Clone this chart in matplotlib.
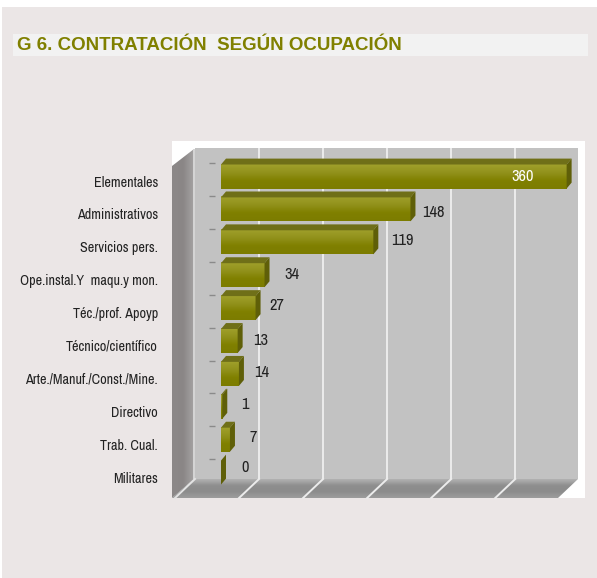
import matplotlib
matplotlib.use('Agg')
import matplotlib.pyplot as plt
import numpy as np
from matplotlib.colors import LinearSegmentedColormap
from matplotlib.patches import Polygon, Rectangle
from matplotlib.transforms import ScaledTranslation

categories = ['Elementales', 'Administrativos', 'Servicios pers.', 'Ope.instal.Y  maqu.y mon.',
              'Téc./prof. Apoyp', 'Técnico/científico', 'Arte./Manuf./Const./Mine.',
              'Directivo', 'Trab. Cual.', 'Militares']
values = [360, 148, 119, 34, 27, 13, 14, 1, 7, 0]
grid_values = [50, 100, 150, 200, 250]

# label nudges in pixels, the original labels are not placed evenly
label_dx = [-44, 23, 29, 27, 21, 23, 23, 23, 23, 24]
label_dy = [0, 4, -1, 0, -2, 0, -1, -2, -2, -5]

W, H = 597, 578
OLIVE = '#808000'
NARROW = ['Archivo Narrow', 'Liberation Sans']


def box(x0, y0, x1, y1):
    # pixel box (y down) to figure fractions
    return [x0 / W, 1 - y1 / H, (x1 - x0) / W, (y1 - y0) / H]


fig = plt.figure(figsize=(W / 100, H / 100), dpi=100, facecolor='white')

# page, title strip and chart walls are drawn in pixel coordinates
page = fig.add_axes([0, 0, 1, 1])
page.axis('off')
page.add_patch(Rectangle((2, 7), 595, 571, color='#ebe6e6', lw=0))
page.add_patch(Rectangle((13, 34), 575, 22, color='#f2f2f2', lw=0))
page.text(17, 45, 'G 6. CONTRATACIÓN  SEGÚN OCUPACIÓN', color=OLIVE, fontsize=13.5,
          fontweight='bold', family='Liberation Sans', va='center')
page.add_patch(Rectangle((172, 141), 413, 357, color='white', lw=0))

wall_cmap = LinearSegmentedColormap.from_list('wall', ['#8c8888', '#8a8686', '#a4a2a2'])
wall = page.imshow(np.linspace(0, 1, 24).reshape(1, -1), extent=(172, 194, 498, 148), cmap=wall_cmap,
                   aspect='auto', zorder=1)
wall.set_clip_path(Polygon([(172, 166), (194, 149), (194, 479), (172, 498)], transform=page.transData))

floor_cmap = LinearSegmentedColormap.from_list('floor', ['#b0b0b0', '#8e8e8e', '#8c8c8c', '#9c9c9c'])
floor = page.imshow(np.linspace(0, 1, 20).reshape(-1, 1), extent=(172, 578, 498, 479), cmap=floor_cmap,
                    aspect='auto', zorder=1)
floor.set_clip_path(Polygon([(172, 498), (194, 479), (578, 479), (558, 498)], transform=page.transData))
page.add_patch(Rectangle((193, 149), 2, 330, color='#d4d4d4', lw=0, zorder=2))
page.set_xlim(0, W)
page.set_ylim(H, 0)

# back wall with the value grid
back = fig.add_axes(box(195, 148, 578, 479))
back.set_xlim(0, 299)
back.set_ylim(479, 148)
back.set_facecolor('#c2c2c2')
back.set_xticks([])
back.set_yticks([])
for s in back.spines.values():
    s.set_visible(False)
for g in grid_values:
    back.axvline(g, color='#ececec', lw=1.4)
    back.plot([g, g - 20 / 1.28], [479, 498], color='#ececec', lw=1.4, clip_on=False)
back.plot([0, -20 / 1.28], [479, 498], color='#e4e4e4', lw=1.4, clip_on=False)

# front plane, the axis stops before the largest bar ends
ax = fig.add_axes(box(221, 153, 572, 491.8))
ax.patch.set_alpha(0)
for s in ax.spines.values():
    s.set_visible(False)
ax.set_xticks([])
ypos = np.arange(len(values))
ax.set_yticks(ypos)
ax.set_yticklabels(categories, family=NARROW, fontsize=10.2, color='#222222')
ax.tick_params(axis='y', length=0, pad=63 * 0.72)
for lab in ax.get_yticklabels():
    lab.set_transform(lab.get_transform() + ScaledTranslation(0, -5 / 100, fig.dpi_scale_trans))

DX, DY, TOP, BOT, CAP = 3.9, 0.18, 0.35, 0.38, 270
grad = np.linspace(0, 1, 30).reshape(-1, 1)
cmap = LinearSegmentedColormap.from_list('bar', ['#a0a02c', '#92921c', OLIVE, '#7c7c00'])
for i, v in enumerate(values):
    x = min(v, CAP)
    top, bot = i - TOP, i + BOT
    if x > 0:
        ax.imshow(grad, extent=(0, x, bot, top), cmap=cmap, aspect='auto', zorder=3)
    ax.add_patch(Polygon([(0, top), (x, top), (x + DX, top - DY), (DX, top - DY)],
                         color='#6f6f18', lw=0, zorder=3))
    ax.add_patch(Polygon([(x, top), (x + DX, top - DY), (x + DX, bot - DY), (x, bot)],
                         color='#5f5f08', lw=0, zorder=3))
    ax.annotate(str(v), (x, i), xytext=(label_dx[i] * 0.72, -label_dy[i] * 0.72),
                textcoords='offset points', ha='center', va='center', family=NARROW,
                fontsize=11.8, color='white' if v > CAP else '#222222', zorder=5)
ax.set_xlim(0, 274.2)
ax.set_ylim(9.6, -0.7)

# small category ticks sit on the back wall
ax.plot([-7] * len(values), ypos - 0.39, ls='none', marker='_', ms=4, mew=1, color='#8a8a8a', clip_on=False)

fig.savefig('out.png', dpi=100)
